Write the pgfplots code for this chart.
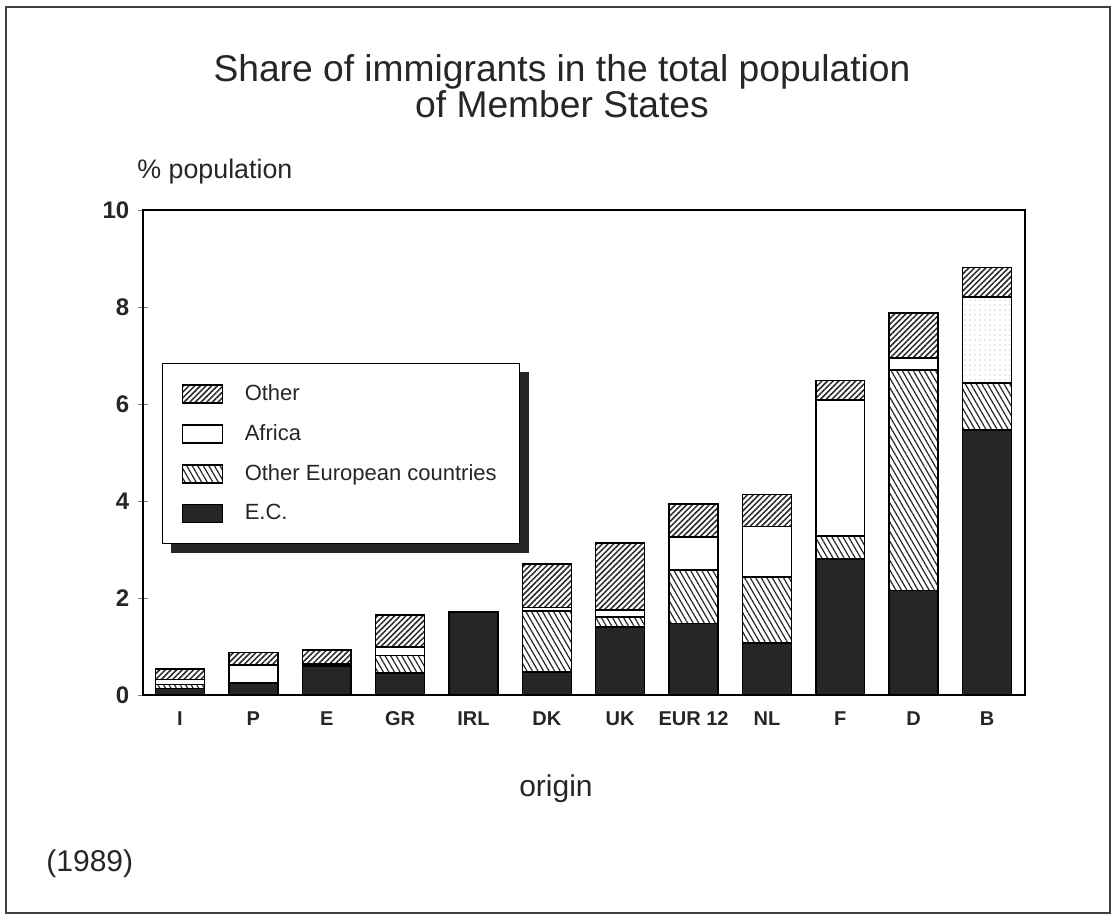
\documentclass[border=0pt]{standalone}
\usepackage{fontspec}
\setmainfont{Liberation Sans}
\usepackage{pgfplots}
\usepackage{pgfplotstable}
\pgfplotsset{compat=1.18}
\usetikzlibrary{patterns.meta,backgrounds}

% shares in % of total population, 1989; AfricaB = Belgium's Africa block (stippled)
\pgfplotstableread{
x  EC   OE   Africa AfricaB Other
0  0.14 0.08 0.10   0       0.22
1  0.25 0.00 0.37   0       0.25
2  0.60 0.02 0.02   0       0.29
3  0.45 0.37 0.17   0       0.66
4  1.71 0    0      0       0
5  0.47 1.26 0.08   0       0.89
6  1.40 0.21 0.14   0       1.38
7  1.48 1.10 0.68   0       0.68
8  1.07 1.36 1.05   0       0.66
9  2.80 0.48 2.80   0       0.41
10 2.16 4.54 0.25   0       0.93
11 5.46 0.97 0      1.78    0.61
}\shares

\pgfplotsset{
  legpatch/.style={legend image code/.code={\draw[##1] (0pt,-4.5pt) rectangle (20pt,4.5pt);}}
}

\begin{document}
\begin{tikzpicture}
\path (0,0) rectangle (557pt,460pt);
\draw[line width=1.4pt, black!75] (3pt,3.5pt) rectangle (555pt,456.5pt);

\node[anchor=base, inner sep=0pt, text=black!85, font=\fontsize{18.6}{20}\selectfont]
  at (281pt,419pt) {Share of immigrants in the total population};
\node[anchor=base, inner sep=0pt, text=black!85, font=\fontsize{18.6}{20}\selectfont]
  at (281pt,401pt) {of Member States};
\node[anchor=base west, inner sep=0pt, text=black!85, font=\fontsize{13.4}{15}\selectfont]
  at (68.5pt,370.5pt) {\% population};
\node[anchor=base, inner sep=0pt, text=black!85, font=\fontsize{15}{17}\selectfont]
  at (278pt,61.5pt) {origin};
\node[anchor=base west, inner sep=0pt, text=black!85, font=\fontsize{15}{17}\selectfont]
  at (23pt,24pt) {(1989)};

\begin{axis}[
  at={(71.5pt,112.5pt)}, anchor=south west,
  scale only axis, width=441pt, height=242.5pt,
  ybar stacked, bar width=0.667,
  xmin=-0.504, xmax=11.518, ymin=0, ymax=10,
  xtick={0,...,11},
  xticklabels={I,P,E,GR,IRL,DK,UK,EUR 12,NL,F,D,B},
  ytick={0,2,...,10}, ytick pos=left,
  tick align=center, major tick length=5pt,
  x tick style={draw=none},
  line width=0.7pt,
  /pgf/number format/assume math mode=true,
  xticklabel style={font=\bfseries\fontsize{10}{12}\selectfont, text=black!85,
    inner sep=0pt, text height=7.2pt, yshift=-5pt},
  yticklabel style={font=\bfseries\fontsize{12}{14}\selectfont, text=black!85,
    inner sep=0pt, xshift=-4pt},
  legend style={name=leg, at={(0.0215,0.6845)}, anchor=north west, draw=black,
    line width=0.6pt, fill=white, text=black!85,
    font=\fontsize{11}{13}\selectfont,
    inner xsep=9.5pt, inner ysep=8.5pt, row sep=6.5pt},
  legend cell align=left,
  reverse legend,
]
\addplot[legpatch, fill=black!85, draw=black] table[x=x, y=EC] {\shares};
\addlegendentry{\hspace*{9pt}E.C.}
\addplot[legpatch, fill=white, draw=black,
  postaction={pattern={Lines[angle=-60,distance=2.4pt,line width=0.6pt]}, pattern color=black!85}]
  table[x=x, y=OE] {\shares};
\addlegendentry{\hspace*{9pt}Other European countries}
\addplot[legpatch, fill=white, draw=black] table[x=x, y=Africa] {\shares};
\addlegendentry{\hspace*{9pt}Africa}
\addplot[forget plot, fill=white, draw=black,
  postaction={pattern={Dots[radius=0.35pt,distance=2.5pt]}, pattern color=black!35}]
  table[x=x, y=AfricaB] {\shares};
\addplot[legpatch, fill=white, draw=black,
  postaction={pattern={Lines[angle=45,distance=2pt,line width=0.75pt]}, pattern color=black!85}]
  table[x=x, y=Other] {\shares};
\addlegendentry{\hspace*{9pt}Other}
\end{axis}

% drop shadow of the legend box
\begin{pgfonlayer}{background}
\fill[black!85] ([shift={(4.5pt,-4.5pt)}]leg.south west) rectangle ([shift={(4.5pt,-4.5pt)}]leg.north east);
\end{pgfonlayer}
\end{tikzpicture}
\end{document}
